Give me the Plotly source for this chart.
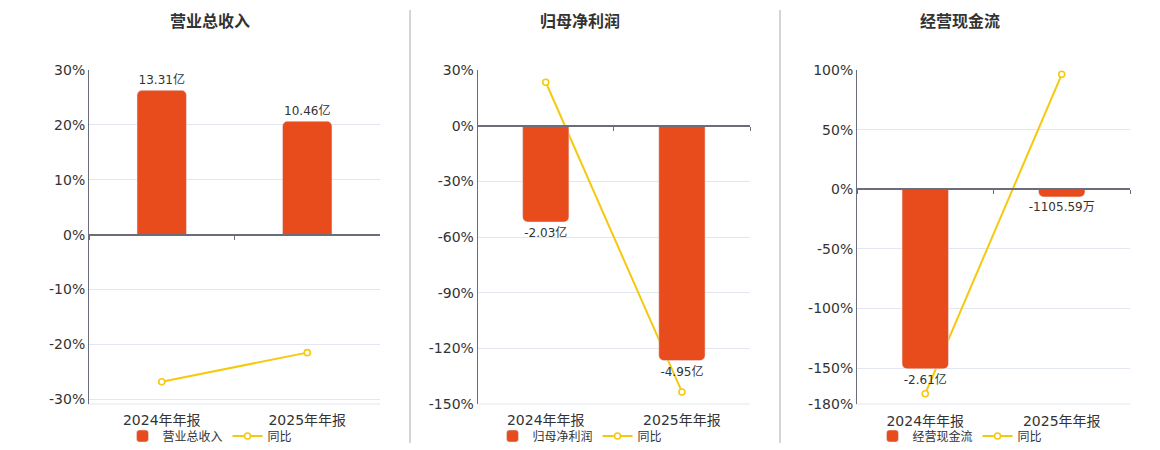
import plotly.graph_objects as go

# data
categories = ["2024年年报", "2025年年报"]

titles = ["营业总收入", "归母净利润", "经营现金流"]

# bar amounts in 亿
revenue = [13.31, 10.46]
net_profit = [-2.03, -4.95]
cash_flow = [-2.61, -0.110559]

revenue_text = ["13.31亿", "10.46亿"]
net_profit_text = ["-2.03亿", "-4.95亿"]
cash_flow_text = ["-2.61亿", "-1105.59万"]

# 同比 in %
revenue_yoy = [-26.8, -21.5]
net_profit_yoy = [23.4, -143.5]
cash_flow_yoy = [-171.4, 96.4]

pct_ticks_1 = [30, 20, 10, 0, -10, -20, -30]
pct_ticks_2 = [30, 0, -30, -60, -90, -120, -150]
pct_ticks_3 = [100, 50, 0, -50, -100, -150, -180]

BAR = "#E84C1C"
LINE = "#F5C90F"
AXIS = "#6b6e7a"
GRID = "#e1e6f0"
FONT = "DejaVu Sans, Noto Sans CJK SC, sans-serif"
W, H = 1160, 450

panels = [
    dict(vals=revenue, text=revenue_text, yoy=revenue_yoy, ticks=pct_ticks_1,
         prange=[-30.86, 30], scale=0.5061, xdom=[89, 380], title_x=210),
    dict(vals=net_profit, text=net_profit_text, yoy=net_profit_yoy, ticks=pct_ticks_2,
         prange=[-150, 30], scale=0.0391, xdom=[477.7, 750], title_x=580),
    dict(vals=cash_flow, text=cash_flow_text, yoy=cash_flow_yoy, ticks=pct_ticks_3,
         prange=[-180, 100], scale=0.01734, xdom=[857, 1130], title_x=960),
]

ydom = [1 - 404 / H, 1 - 70 / H]

fig = go.Figure()
layout = {}

for i, (p, name) in enumerate(zip(panels, titles), start=1):
    k = "" if i == 1 else str(i)
    xa, ya, yb = f"x{k}", f"y{k}", f"y{i + 3}"
    leg = f"legend{k}"

    fig.add_trace(go.Bar(
        x=categories, y=p["vals"], text=p["text"], name=name,
        xaxis=xa, yaxis=yb, marker_color=BAR, width=0.34,
        textposition="outside", cliponaxis=False, constraintext="none",
        textfont=dict(size=12, color="#333333"),
        legend=leg, hoverinfo="skip",
    ))
    fig.add_trace(go.Scatter(
        x=categories, y=p["yoy"], name="同比", mode="lines+markers",
        xaxis=xa, yaxis=ya, line=dict(color=LINE, width=2),
        marker=dict(size=6, color="white", line=dict(color=LINE, width=1.6)),
        legend=leg, hoverinfo="skip",
    ))

    xd = [p["xdom"][0] / W, p["xdom"][1] / W]
    r0, r1 = p["prange"]
    zero_pos = ydom[0] + (0 - r0) / (r1 - r0) * (ydom[1] - ydom[0])

    # x axis sits on the zero line, labels pushed down to the bottom
    layout[f"xaxis{k}"] = dict(
        domain=xd, anchor="free", position=zero_pos, type="category",
        range=[-0.5, 1.5], showline=True, linecolor=AXIS, linewidth=2,
        showgrid=False, ticks="outside", tickson="boundaries", ticklen=4,
        tickcolor=AXIS, ticklabelstandoff=int(round((zero_pos - ydom[0]) * H)) + 4,
        tickfont=dict(size=14, color="#333333"),
    )
    layout[f"yaxis{k}"] = dict(
        domain=ydom, anchor=xa, range=p["prange"], tickvals=p["ticks"],
        ticktext=[f"{t}%" for t in p["ticks"]], showline=True, linecolor=AXIS,
        linewidth=1, gridcolor=GRID, zeroline=False, ticks="",
        tickfont=dict(size=14, color="#333333"),
    )
    layout[f"yaxis{i + 3}"] = dict(
        overlaying=ya, anchor=xa, range=[r0 * p["scale"], r1 * p["scale"]],
        visible=False, showgrid=False, zeroline=False,
    )
    layout[leg] = dict(
        orientation="h", x=p["title_x"] / W, xanchor="center",
        y=1 - 436 / H, yanchor="middle",
        font=dict(size=12, color="#333333"), bgcolor="rgba(0,0,0,0)",
        itemwidth=30, tracegroupgap=0,
    )
    fig.add_annotation(
        text=f"<b>{name}</b>", x=p["title_x"] / W, y=1 - 22 / H,
        xref="paper", yref="paper", xanchor="center", yanchor="middle",
        showarrow=False, font=dict(size=16, color="#333333"),
    )
    # light bottom edge of the plot area
    fig.add_shape(type="line", xref=f"{xa} domain", yref=f"{ya} domain",
                  x0=0, x1=1, y0=0, y1=0, line=dict(color=GRID, width=1))

for sx in [410, 780]:
    fig.add_shape(type="line", xref="paper", yref="paper",
                  x0=sx / W, x1=sx / W, y0=1 - 443 / H, y1=1 - 10 / H,
                  line=dict(color="#aaaaaa", width=1))

fig.update_layout(
    **layout,
    width=W, height=H,
    margin=dict(l=0, r=0, t=0, b=0, autoexpand=False),
    paper_bgcolor="white", plot_bgcolor="white",
    font=dict(family=FONT, color="#333333"),
    barcornerradius=5, showlegend=True,
)

fig.write_html("out.html", config={"displayModeBar": False},
               post_script="document.body.style.margin='0';")
